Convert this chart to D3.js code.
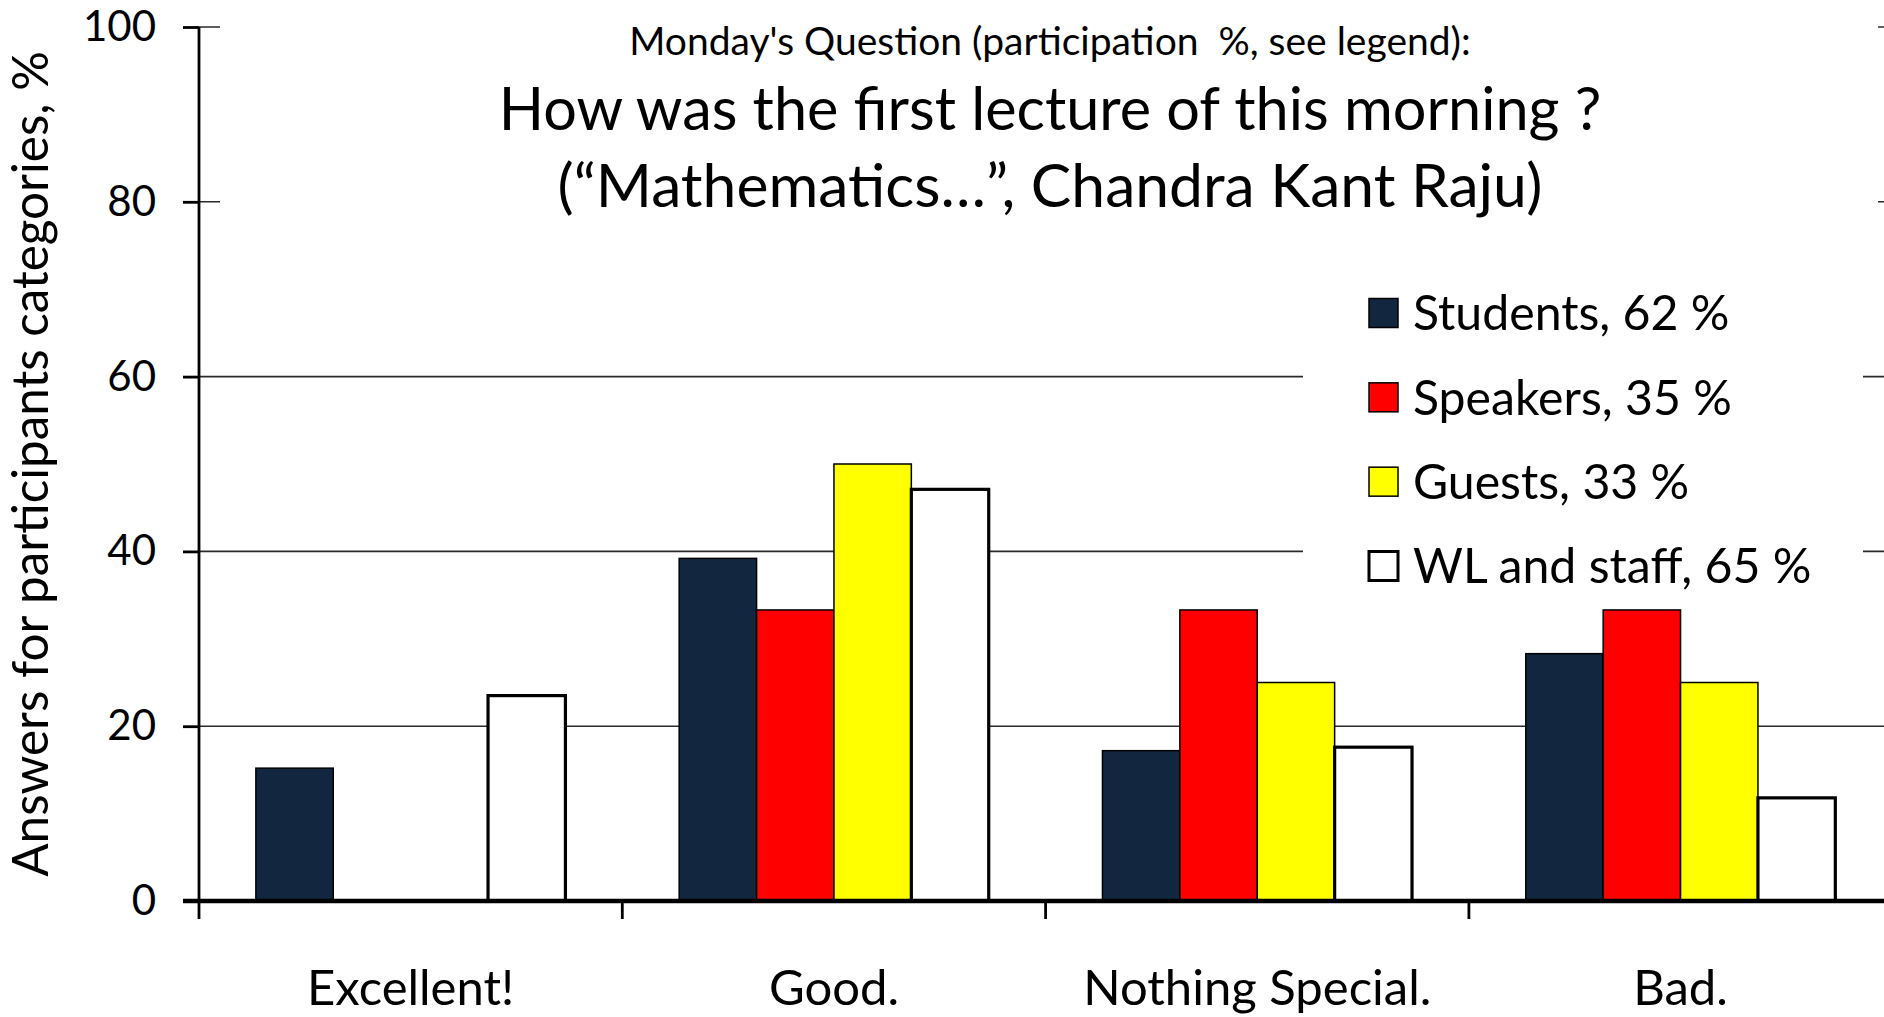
<!DOCTYPE html>
<html>
<head>
<meta charset="utf-8">
<script src="https://cdn.jsdelivr.net/npm/d3@7"></script>
<style>
  body { margin: 0; background: #fff; }
  svg { display: block; font-family: Lato, "Open Sans", sans-serif; }
  text { white-space: pre; }
</style>
</head>
<body>
<div id="chart"></div>
<script>
// data
var categories = ["Excellent!", "Good.", "Nothing Special.", "Bad."];
var seriesNames = ["Students, 62 %", "Speakers, 35 %", "Guests, 33 %", "WL and staff, 65 %"];
var students = [15.2, 39.2, 17.2, 28.3];
var speakers = [0, 33.3, 33.3, 33.3];
var guests = [0, 50, 25, 25];
var staff = [23.5, 47.1, 17.6, 11.8];
var yTicks = [0, 20, 40, 60, 80, 100];
var titleLines = [
  "Monday's Question (participation  %, see legend):",
  "How was the first lecture of this morning ?",
  "(\u201cMathematics\u2026\u201d, Chandra Kant Raju)"
];
var yTitle = "Answers for participants categories, %";

var colors = ["#132640", "#ff0000", "#ffff00", "#ffffff"];
var strokeW = [1.5, 1.5, 1.5, 3.2];

var width = 1884, height = 1017;
var left = 199, step = 423.3;

var svg = d3.select("#chart").append("svg")
  .attr("width", width)
  .attr("height", height);

var values = [students, speakers, guests, staff];
var rows = [];
categories.forEach(function(c, i) {
  seriesNames.forEach(function(s, j) {
    rows.push({cat: c, s: s, j: j, v: values[j][i]});
  });
});

// scales
var x0 = d3.scaleBand()
  .domain(categories)
  .range([left, left + step * categories.length])
  .padding(0);
var x1 = d3.scaleBand()
  .domain(seriesNames)
  .range([0, x0.bandwidth()])
  .paddingInner(0)
  .paddingOuter(0.735);
var y = d3.scaleLinear()
  .domain([0, 100])
  .range([901, 27]);

// gridlines
svg.append("g")
  .selectAll("line")
  .data(yTicks.filter(d => d > 0))
  .enter()
  .append("line")
  .attr("x1", left)
  .attr("x2", width)
  .attr("y1", d => y(d))
  .attr("y2", d => y(d))
  .attr("stroke", "#2a2a2a")
  .attr("stroke-width", 1.6);

// title box and legend box hide the gridlines behind them
svg.append("rect").attr("x", 220).attr("y", 0).attr("width", 1658).attr("height", 235).attr("fill", "#fff");
svg.append("rect").attr("x", 1303).attr("y", 255).attr("width", 560).attr("height", 340).attr("fill", "#fff");

// bars
svg.append("g")
  .selectAll("rect")
  .data(rows.filter(d => d.v > 0))
  .enter()
  .append("rect")
  .attr("x", d => x0(d.cat) + x1(d.s))
  .attr("y", d => y(d.v))
  .attr("width", x1.bandwidth())
  .attr("height", d => y(0) - y(d.v))
  .attr("fill", d => colors[d.j])
  .attr("stroke", "#000")
  .attr("stroke-width", d => strokeW[d.j]);

// y axis
var yAxis = d3.axisLeft(y)
  .tickValues(yTicks)
  .tickSize(16)
  .tickPadding(27)
  .tickFormat(d3.format("d"));
var gy = svg.append("g")
  .attr("transform", "translate(" + left + ",0)")
  .call(yAxis);
gy.select(".domain").attr("stroke-width", 2.8).attr("d", "M0," + y(100) + "V" + y(0));
gy.selectAll(".tick line").attr("stroke-width", 2.8);
gy.selectAll(".tick text")
  .attr("font-size", 42)
  .attr("fill", "#000")
  .attr("font-family", "Lato, sans-serif");

// x axis: labels at band centres, ticks on category boundaries
var xAxis = d3.axisBottom(x0).tickSize(0).tickPadding(69);
var gx = svg.append("g")
  .attr("transform", "translate(0," + y(0) + ")")
  .call(xAxis);
gx.select(".domain").remove();
gx.selectAll(".tick text")
  .attr("font-size", 49)
  .attr("fill", "#000")
  .attr("font-family", "Lato, sans-serif");
gx.selectAll(".boundary")
  .data(categories)
  .enter()
  .append("line")
  .attr("x1", d => x0(d))
  .attr("x2", d => x0(d))
  .attr("y1", 0)
  .attr("y2", 18)
  .attr("stroke", "#000")
  .attr("stroke-width", 2.8);
gx.append("line")
  .attr("x1", 183)
  .attr("x2", width)
  .attr("y1", 0)
  .attr("y2", 0)
  .attr("stroke", "#000")
  .attr("stroke-width", 4.5);

// y title
svg.append("text")
  .attr("transform", "translate(48,464) rotate(-90)")
  .attr("text-anchor", "middle")
  .attr("font-size", 49.4)
  .text(yTitle);

// chart title
var titleSizes = [39, 59.4, 60.6];
var titleY = [55, 130, 207];
svg.append("g")
  .selectAll("text")
  .data(titleLines)
  .enter()
  .append("text")
  .attr("x", 1050)
  .attr("y", (d, i) => titleY[i])
  .attr("text-anchor", "middle")
  .attr("font-size", (d, i) => titleSizes[i])
  .text(d => d);

// legend
var legY = d3.scalePoint().domain(seriesNames).range([313, 566]);
var leg = svg.append("g")
  .selectAll("g")
  .data(seriesNames)
  .enter()
  .append("g")
  .attr("transform", d => "translate(1369," + legY(d) + ")");
leg.append("rect")
  .attr("x", 0)
  .attr("y", -14.5)
  .attr("width", 29)
  .attr("height", 29)
  .attr("fill", (d, i) => colors[i])
  .attr("stroke", "#000")
  .attr("stroke-width", (d, i) => i == 3 ? 3 : 1.5);
leg.append("text")
  .attr("x", 44)
  .attr("y", 0)
  .attr("dy", "0.36em")
  .attr("font-size", 48.2)
  .text(d => d);
</script>
</body>
</html>
